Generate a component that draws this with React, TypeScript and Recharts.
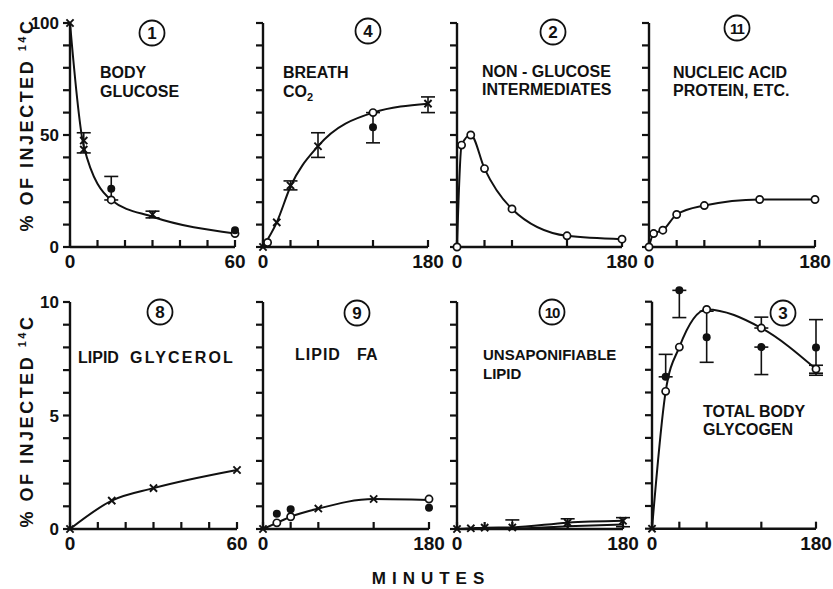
import React from 'react'
import { ComposedChart, Line, Scatter, XAxis, YAxis, ErrorBar, ReferenceLine } from 'recharts'

const INK = '#111'
const FONT = '"Liberation Sans", Arial, sans-serif'

type Pt = { t: number; v: number; lo?: number; hi?: number }

// tick positions (minutes / percent)
const ticks60 = [0, 10, 20, 30, 40, 50, 60]
const ticks180 = [0, 30, 60, 120, 180]
const ticksPct100 = [0, 10, 20, 30, 40, 50, 60, 70, 80, 90, 100]
const ticksPct10 = [0, 1, 2, 3, 4, 5, 6, 7, 8, 9, 10]

// 1 body glucose
const glucoseTimes = [0, 5, 15, 30, 60]
const glucoseCurve = [100, 45, 21, 13.5, 6]
const glucoseCross: Pt[] = [
  { t: 0, v: 100 },
  { t: 5, v: 47.5, lo: 42, hi: 51 },
  { t: 5, v: 43.5 },
  { t: 30, v: 14.5, lo: 13, hi: 16 },
]
const glucoseOpen: Pt[] = [{ t: 15, v: 21 }, { t: 60, v: 6 }]
const glucoseFilled: Pt[] = [{ t: 15, v: 26, lo: 21, hi: 31.5 }, { t: 60, v: 7.5 }]

// 4 breath CO2
const co2Times = [0, 15, 30, 60, 120, 180]
const co2Curve = [0, 11, 27, 45, 60, 64]
const co2Cross: Pt[] = [
  { t: 0, v: 0 },
  { t: 15, v: 11 },
  { t: 30, v: 27.5, lo: 25.5, hi: 29.5 },
  { t: 60, v: 45, lo: 40, hi: 51 },
  { t: 180, v: 64, lo: 60, hi: 67 },
]
const co2Open: Pt[] = [{ t: 5, v: 2 }, { t: 120, v: 60 }]
const co2Filled: Pt[] = [{ t: 120, v: 53.5, lo: 46.5, hi: 60 }]

// 2 non-glucose intermediates
const interTimes = [0, 5, 15, 30, 60, 120, 180]
const interValues = [0, 45.5, 50, 35, 17, 5, 3.5]

// 11 nucleic acid, protein
const nucTimes = [0, 5, 15, 30, 60, 120, 180]
const nucValues = [0, 6, 7.5, 14.5, 18.5, 21.2, 21.2]

// 8 lipid glycerol
const glycTimes = [0, 15, 30, 60]
const glycValues = [0, 1.25, 1.8, 2.6]

// 9 lipid FA
const faTimes = [0, 15, 30, 60, 120, 180]
const faCurve = [0, 0.27, 0.54, 0.9, 1.32, 1.28]
const faCross: Pt[] = [{ t: 0, v: 0 }, { t: 60, v: 0.9 }, { t: 120, v: 1.32 }]
const faOpen: Pt[] = [{ t: 15, v: 0.27 }, { t: 30, v: 0.54 }, { t: 180, v: 1.32 }]
const faFilled: Pt[] = [{ t: 15, v: 0.67 }, { t: 30, v: 0.87 }, { t: 180, v: 0.94 }]

// 10 unsaponifiable lipid
const unsTimes = [0, 15, 30, 60, 120, 180]
const unsCurve = [0, 0.03, 0.06, 0.07, 0.28, 0.36]
const unsLowTimes = [30, 60, 120, 180]
const unsLowCurve = [0.02, 0.02, 0.12, 0.2]
const unsCross: Pt[] = [
  { t: 0, v: 0 },
  { t: 15, v: 0.03 },
  { t: 30, v: 0.06 },
  { t: 60, v: 0.07, lo: 0, hi: 0.4 },
  { t: 120, v: 0.28, lo: 0, hi: 0.45 },
  { t: 180, v: 0.36, lo: 0.1, hi: 0.5 },
]

// 3 total body glycogen
const glygTimes = [0, 15, 30, 60, 120, 180]
const glygCurve = [0, 6.05, 8.0, 9.66, 8.84, 7.03]
const glygCross: Pt[] = [{ t: 0, v: 0 }]
const glygOpen: Pt[] = [
  { t: 15, v: 6.05 },
  { t: 30, v: 8.0 },
  { t: 60, v: 9.66 },
  { t: 120, v: 8.84, lo: 8.84, hi: 9.32 },
  { t: 180, v: 7.03, lo: 6.85, hi: 7.2 },
]
const glygFilled: Pt[] = [
  { t: 15, v: 6.69, lo: 6.69, hi: 7.68 },
  { t: 30, v: 10.5, lo: 9.3, hi: 10.5 },
  { t: 60, v: 8.43, lo: 7.33, hi: 9.58 },
  { t: 120, v: 8.0, lo: 6.79, hi: 8.0 },
  { t: 180, v: 7.98, lo: 6.76, hi: 9.21 },
]

const rows = (times: number[], values: number[]) => times.map((t, i) => ({ t, v: values[i] }))
const pts = (times: number[], values: number[]): Pt[] => rows(times, values)

const withErr = (p: Pt[]) =>
  p.filter((d) => d.lo !== undefined).map((d) => ({ ...d, err: [d.v - (d.lo as number), (d.hi as number) - d.v] }))
const noErr = (p: Pt[]) => p.filter((d) => d.lo === undefined)

const Cross = (props: any) => {
  const { cx, cy } = props
  const s = 3.6
  return (
    <path
      d={`M${cx - s},${cy - s}L${cx + s},${cy + s}M${cx - s},${cy + s}L${cx + s},${cy - s}`}
      stroke={INK}
      strokeWidth={1.9}
    />
  )
}
const OpenDot = (props: any) => <circle cx={props.cx} cy={props.cy} r={3.6} fill="#fff" stroke={INK} strokeWidth={1.7} />
const FilledDot = (props: any) => <circle cx={props.cx} cy={props.cy} r={4} fill={INK} />

// tick marks as scatter shapes: x ticks stand up from the axis, y ticks stick out to the left
const XTickMark = (props: any) => (
  <path d={`M${props.cx},${props.cy}V${props.cy - 7}`} stroke={INK} strokeWidth={2.2} fill="none" />
)
const YTickMark = (props: any) => (
  <path d={`M${props.cx - 7},${props.cy}H${props.cx}`} stroke={INK} strokeWidth={2.2} fill="none" />
)

const XTick = (props: any) => {
  const { x, y, payload, labels } = props
  if (!labels.includes(payload.value)) return <g />
  return (
    <text x={x} y={y + 21} textAnchor="middle" fontFamily={FONT} fontWeight="bold" fontSize={19} fill={INK}>
      {payload.value}
    </text>
  )
}

const YTick = (props: any) => {
  const { x, y, payload, labels } = props
  if (!labels.includes(payload.value)) return <g />
  return (
    <text x={x - 11} y={y + 6} textAnchor="end" fontFamily={FONT} fontWeight="bold" fontSize={17} fill={INK}>
      {payload.value}
    </text>
  )
}

// chart margins around each plot box; the 1px axes are included in left/bottom
const ML = 70
const MR = 30
const MT = 40
const MB = 40

type PanelProps = {
  x: number
  y: number
  w: number
  h: number
  xMax: number
  xTicks: number[]
  yMax: number
  yTop: number
  yTicks: number[]
  yLabels: number[]
  curves: { t: number; v: number }[][]
  cross?: Pt[]
  open?: Pt[]
  filled?: Pt[]
}

function markers(p: Pt[] | undefined, shape: any, key: string) {
  if (!p) return []
  const out = []
  const plain = noErr(p)
  const errs = withErr(p)
  if (plain.length)
    out.push(<Scatter key={key + 'p'} data={plain} shape={shape} isAnimationActive={false} />)
  if (errs.length)
    out.push(
      <Scatter key={key + 'e'} data={errs} shape={shape} isAnimationActive={false}>
        <ErrorBar dataKey="err" direction="y" width={7} stroke={INK} strokeWidth={1.6} isAnimationActive={false} />
      </Scatter>
    )
  return out
}

function Panel(p: PanelProps) {
  const xTickPts = p.xTicks.map((t) => ({ t, v: 0 }))
  const yTickPts = p.yTicks.map((v) => ({ t: 0, v }))
  return (
    <div style={{ position: 'absolute', left: p.x - ML, top: p.y - MT }}>
      <ComposedChart
        width={p.w + ML + MR}
        height={p.h + MT + MB}
        margin={{ top: MT, right: MR, bottom: MB - 1, left: ML - 1 }}
      >
        <XAxis
          type="number"
          dataKey="t"
          domain={[0, p.xMax]}
          ticks={p.xTicks}
          interval={0}
          height={1}
          tickSize={0}
          tickMargin={0}
          axisLine={{ stroke: INK, strokeWidth: 2.4 }}
          tickLine={false}
          tick={<XTick labels={[0, p.xMax]} />}
        />
        <YAxis
          type="number"
          dataKey="v"
          domain={[0, p.yTop]}
          ticks={p.yTicks}
          interval={0}
          width={1}
          tickSize={0}
          tickMargin={0}
          axisLine={false}
          tickLine={false}
          tick={<YTick labels={p.yLabels} />}
        />
        <ReferenceLine segment={[{ x: 0, y: 0 }, { x: 0, y: p.yMax }]} stroke={INK} strokeWidth={2.4} />
        <Scatter data={xTickPts} shape={XTickMark} isAnimationActive={false} />
        <Scatter data={yTickPts} shape={YTickMark} isAnimationActive={false} />
        {p.curves.map((c, i) => (
          <Line
            key={'c' + i}
            data={c}
            dataKey="v"
            type="monotone"
            stroke={INK}
            strokeWidth={2}
            dot={false}
            isAnimationActive={false}
          />
        ))}
        {markers(p.cross, Cross, 'x')}
        {markers(p.open, OpenDot, 'o')}
        {markers(p.filled, FilledDot, 'f')}
      </ComposedChart>
    </div>
  )
}

const txt = { fontFamily: FONT, fontWeight: 'bold' as const, fill: INK }

function Circled({ cx, cy, n }: { cx: number; cy: number; n: string }) {
  return (
    <g>
      <circle cx={cx} cy={cy} r={12.5} fill="none" stroke={INK} strokeWidth={1.8} />
      <text x={cx} y={cy + 6} textAnchor="middle" fontSize={n.length > 1 ? 15 : 17} letterSpacing={n.length > 1 ? -1 : 0} {...txt}>
        {n}
      </text>
    </g>
  )
}

function Label({ x, y, children, size = 16, spacing = 0 }: any) {
  return (
    <text x={x} y={y} fontSize={size} letterSpacing={spacing} {...txt}>
      {children}
    </text>
  )
}

function YTitle({ cy }: { cy: number }) {
  return (
    <text transform={`translate(33,${cy}) rotate(-90)`} textAnchor="middle" fontSize={18} letterSpacing={2.5} {...txt}>
      % OF INJECTED <tspan fontSize={11} dy={-7}>14</tspan>
      <tspan dy={7}>C</tspan>
    </text>
  )
}

export default function App() {
  const top = { y: 23, h: 224 }
  const bot = { y: 302, h: 227 }
  const pctTop = { yMax: 100, yTop: 100, yTicks: ticksPct100 }
  const pctBot = { yMax: 10, yTop: 10, yTicks: ticksPct10 }
  return (
    <div style={{ position: 'absolute', left: 0, top: 0, width: 833, height: 589, background: '#fff', overflow: 'hidden' }}>
      <Panel
        x={70} w={165} {...top} {...pctTop} xMax={60} xTicks={ticks60} yLabels={[0, 50, 100]}
        curves={[rows(glucoseTimes, glucoseCurve)]}
        cross={glucoseCross} open={glucoseOpen} filled={glucoseFilled}
      />
      <Panel
        x={263} w={165} {...top} {...pctTop} xMax={180} xTicks={ticks180} yLabels={[]}
        curves={[rows(co2Times, co2Curve)]}
        cross={co2Cross} open={co2Open} filled={co2Filled}
      />
      <Panel
        x={457} w={165} {...top} {...pctTop} xMax={180} xTicks={ticks180} yLabels={[]}
        curves={[rows(interTimes, interValues)]}
        open={pts(interTimes, interValues)}
      />
      <Panel
        x={649} w={166} {...top} {...pctTop} xMax={180} xTicks={ticks180} yLabels={[]}
        curves={[rows(nucTimes, nucValues)]}
        open={pts(nucTimes, nucValues)}
      />
      <Panel
        x={70} w={167} {...bot} {...pctBot} xMax={60} xTicks={ticks60} yLabels={[0, 5, 10]}
        curves={[rows(glycTimes, glycValues)]}
        cross={pts(glycTimes, glycValues)}
      />
      <Panel
        x={263} w={166} {...bot} {...pctBot} xMax={180} xTicks={ticks180} yLabels={[]}
        curves={[rows(faTimes, faCurve)]}
        cross={faCross} open={faOpen} filled={faFilled}
      />
      <Panel
        x={457} w={166} {...bot} {...pctBot} xMax={180} xTicks={ticks180} yLabels={[]}
        curves={[rows(unsTimes, unsCurve), rows(unsLowTimes, unsLowCurve)]}
        cross={unsCross}
      />
      <Panel
        x={652} w={164} y={529 - 249.7} h={249.7} yMax={10} yTop={11} yTicks={ticksPct10}
        xMax={180} xTicks={ticks180} yLabels={[]}
        curves={[rows(glygTimes, glygCurve)]}
        cross={glygCross} open={glygOpen} filled={glygFilled}
      />

      <svg width={833} height={589} style={{ position: 'absolute', left: 0, top: 0, pointerEvents: 'none' }}>
        <YTitle cy={125} />
        <YTitle cy={421} />

        <Circled cx={152} cy={33} n="1" />
        <Circled cx={368} cy={31} n="4" />
        <Circled cx={553} cy={32} n="2" />
        <Circled cx={737} cy={28} n="11" />
        <Circled cx={160} cy={312} n="8" />
        <Circled cx={357} cy={313} n="9" />
        <Circled cx={552} cy={312} n="10" />
        <Circled cx={783} cy={313} n="3" />

        <Label x={100} y={78}>BODY</Label>
        <Label x={100} y={97}>GLUCOSE</Label>
        <Label x={283} y={78}>BREATH</Label>
        <Label x={283} y={97}>
          CO<tspan fontSize={11} dy={4}>2</tspan>
        </Label>
        <Label x={482} y={77}>NON - GLUCOSE</Label>
        <Label x={482} y={95}>INTERMEDIATES</Label>
        <Label x={673} y={78}>NUCLEIC ACID</Label>
        <Label x={673} y={96}>PROTEIN, ETC.</Label>

        <Label x={78} y={363}>LIPID</Label>
        <Label x={130} y={363} spacing={2.2}>GLYCEROL</Label>
        <Label x={295} y={360} spacing={1}>LIPID</Label>
        <Label x={357} y={360}>FA</Label>
        <Label x={483} y={360} size={15}>UNSAPONIFIABLE</Label>
        <Label x={483} y={379} size={15}>LIPID</Label>
        <Label x={703} y={417}>TOTAL BODY</Label>
        <Label x={703} y={435}>GLYCOGEN</Label>

        <text x={431} y={584} textAnchor="middle" fontSize={17} letterSpacing={6} {...txt}>
          MINUTES
        </text>
      </svg>
    </div>
  )
}
